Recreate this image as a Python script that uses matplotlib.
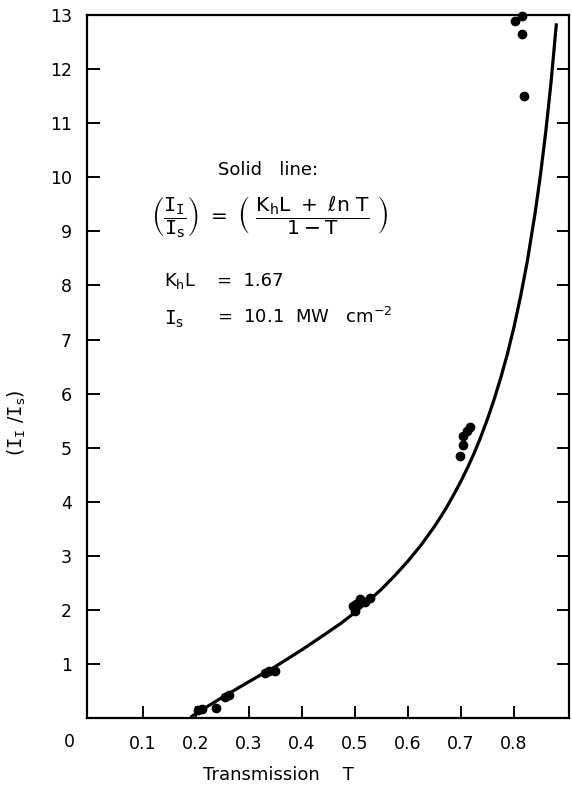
import matplotlib
matplotlib.use("Agg")
import matplotlib.pyplot as plt

plt.rcParams['font.family'] = ['DejaVu Sans']
plt.rcParams['mathtext.fontset'] = 'dejavusans'

# solid line
T_line = [0.19, 0.2, 0.25, 0.3, 0.35, 0.4, 0.45, 0.475, 0.5, 0.525, 0.55, 0.575, 0.6, 0.625, 0.65,
          0.6625, 0.675, 0.6875, 0.7, 0.7125, 0.725, 0.7375, 0.75, 0.7625, 0.775, 0.7875, 0.8,
          0.8125, 0.825, 0.84, 0.85, 0.86, 0.87, 0.88]
ratio_line = [0.01, 0.08, 0.38, 0.67, 0.95, 1.26, 1.59, 1.76, 1.95, 2.16, 2.38, 2.63, 2.90, 3.20, 3.54,
              3.73, 3.93, 4.15, 4.38, 4.63, 4.90, 5.20, 5.53, 5.89, 6.29, 6.73, 7.23,
              7.80, 8.44, 9.35, 10.05, 10.85, 11.77, 12.85]

# measured points
T_meas = [0.205, 0.212, 0.238, 0.255, 0.262, 0.33, 0.338, 0.35, 0.497, 0.5, 0.503, 0.51, 0.52, 0.528,
          0.698, 0.703, 0.704, 0.711, 0.718, 0.801, 0.816, 0.816, 0.819]
ratio_meas = [0.15, 0.17, 0.18, 0.39, 0.43, 0.84, 0.86, 0.87, 2.08, 1.98, 2.1, 2.2, 2.15, 2.22,
              4.85, 5.05, 5.22, 5.3, 5.39, 12.89, 12.99, 12.65, 11.5]

x_ticks = [0.1, 0.2, 0.3, 0.4, 0.5, 0.6, 0.7, 0.8]
x_ticklabels = ['0.1', '0.2', '0.3', '0.4', '0.5', '0.6', '0.7', '0.8']
y_ticks = [1, 2, 3, 4, 5, 6, 7, 8, 9, 10, 11, 12, 13]

fig = plt.figure(figsize=(5.72, 7.87), dpi=100)
ax = fig.add_axes([0.152, 0.0877, 0.843, 0.893])

ax.plot(T_line, ratio_line, color='black', linewidth=2.3, solid_capstyle='butt')
ax.plot(T_meas, ratio_meas, 'o', color='black', markersize=6, clip_on=False)

ax.set_xlim(-0.005, 0.904)
ax.set_ylim(0, 13)

ax.set_xticks(x_ticks)
ax.set_xticklabels(x_ticklabels)
ax.set_yticks(y_ticks)
ax.tick_params(axis='both', direction='in', length=9, width=1.4, labelsize=12.5)
ax.tick_params(axis='y', right=True, pad=11)
ax.tick_params(axis='x', pad=12)
for s in ax.spines.values():
    s.set_linewidth(1.6)

# corner zero
ax.text(-0.037, -0.034, '0', transform=ax.transAxes, ha='center', va='center', fontsize=12.5)

ax.set_xlabel('Transmission    T', fontsize=13)
ax.xaxis.set_label_coords(0.398, -0.068)
ax.set_ylabel(r'$(\mathtt{I}_\mathtt{I}\ /\mathtt{I}_\mathrm{s})$', fontsize=13.5)
ax.yaxis.set_label_coords(-0.122, 0.42)

ax.text(0.336, 10.13, 'Solid   line:', fontsize=13, ha='center', va='center')
ax.text(0.34, 9.26, r'$\left(\dfrac{\mathtt{I}_\mathtt{I}}{\mathtt{I}_\mathrm{s}}\right)\ =\ '
                    r'\left(\ \dfrac{\mathrm{K_h L}\ +\ \ell\mathrm{n\ T}}{\mathrm{1 - T}}\ \right)$',
        fontsize=14.5, ha='center', va='center')
ax.text(0.141, 8.08, r'$\mathrm{K_h L}$', fontsize=13, ha='left', va='center')
ax.text(0.24, 8.08, '=  1.67', fontsize=13, ha='left', va='center')
ax.text(0.141, 7.37, r'$\mathtt{I}_\mathrm{s}$', fontsize=14, ha='left', va='center')
ax.text(0.24, 7.42, r'=  10.1  MW   cm$^{-2}$', fontsize=13, ha='left', va='center')

fig.savefig('out.png', dpi=100)
